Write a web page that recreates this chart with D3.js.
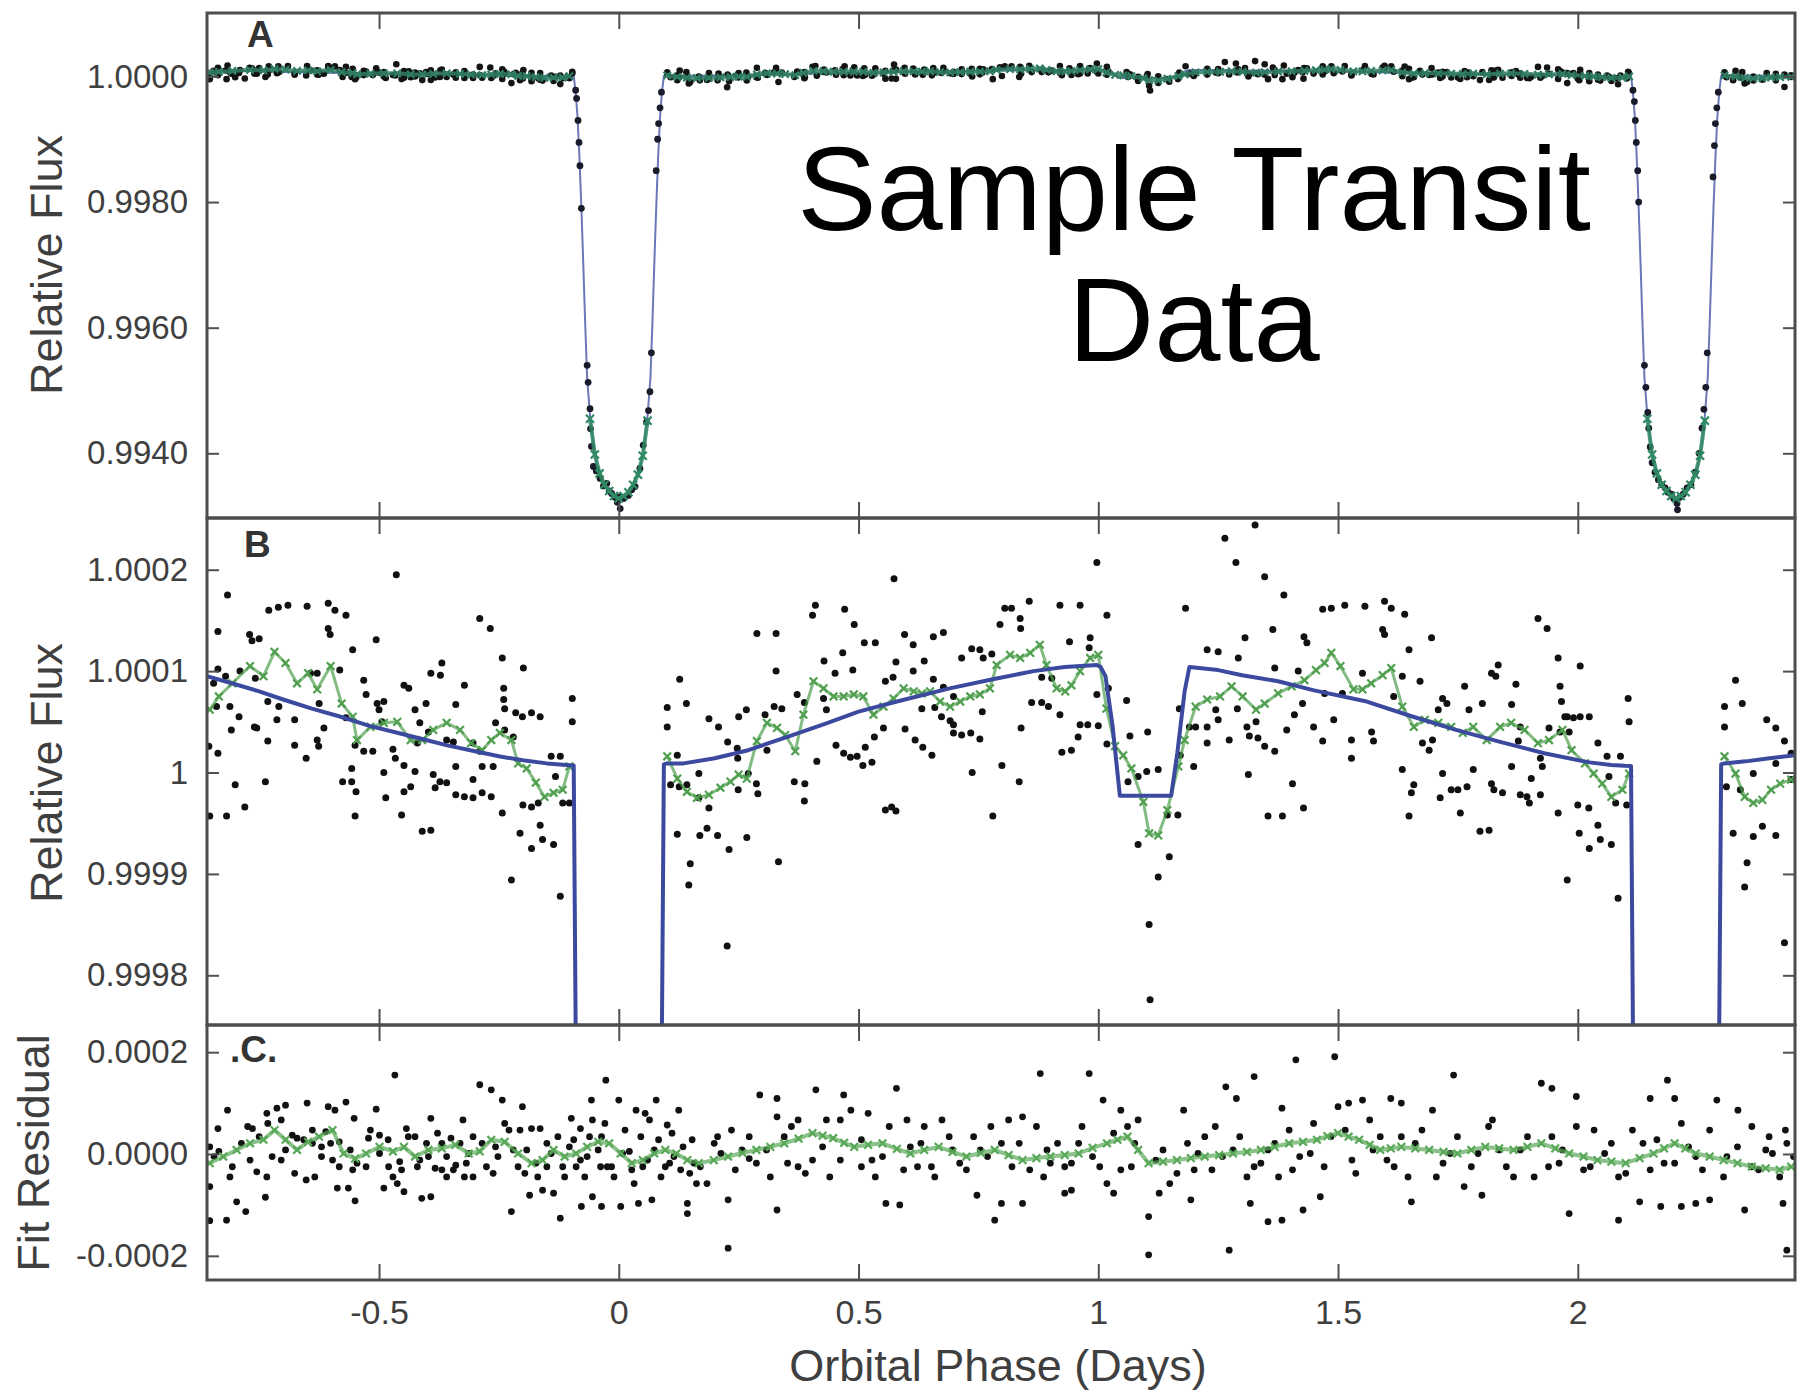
<!DOCTYPE html>
<html><head><meta charset="utf-8">
<script src="https://cdn.jsdelivr.net/npm/d3@7"></script>
<style>
body{margin:0;background:#fff}
svg{display:block}
text{font-family:"Liberation Sans",Arial,Helvetica,sans-serif}
</style>
</head><body>
<svg id="chart" width="1797" height="1396"></svg>
<script>
// ---------------- DATA ----------------
// x axis: orbital phase in days
const phaseRange = [-0.8588, 2.453];
const xTickValues = [-0.5, 0, 0.5, 1, 1.5, 2];
const xTickLabels = ["-0.5", "0", "0.5", "1", "1.5", "2"];

// panel A (relative flux)
const aRange = [0.99297, 1.00101];
const aTickValues = [1.0, 0.998, 0.996, 0.994];
const aTickLabels = ["1.0000", "0.9980", "0.9960", "0.9940"];
// panel B (relative flux, zoomed)
const bRange = [0.999751, 1.000251];
const bTickValues = [1.0002, 1.0001, 1.0, 0.9999, 0.9998];
const bTickLabels = ["1.0002", "1.0001", "1", "0.9999", "0.9998"];
// panel C (fit residual)
const cRange = [-0.0002475, 0.0002534];
const cTickValues = [0.0002, 0, -0.0002];
const cTickLabels = ["0.0002", "0.0000", "-0.0002"];

// Out-of-transit photometry: [phase (days), flux - 1 in ppm]
const obsPoints = [
[-0.816,175],[-0.836,139],[-0.464,195],[-0.73,160],[-0.71,163],[-0.69,165],[-0.65,164],[-0.606,167],[-0.592,160],[-0.569,155],[-0.606,142],[-0.602,136],[-0.77,136],[-0.765,130],[-0.75,132],[-0.555,121],[-0.506,131],[-0.29,152],[-0.268,142],[-0.243,113],[-0.199,103],[-0.392,98],[-0.369,108],[-0.372,96],[-0.097,73],[-0.097,50],
[-0.836,102],[-0.79,100],[-0.758,93],[-0.643,98],[-0.629,98],[-0.582,101],[-0.532,91],[-0.527,77],[-0.504,68],[-0.49,70],[-0.5,62],[-0.448,86],[-0.438,83],[-0.425,62],[-0.402,68],[-0.34,67],[-0.322,86],[-0.24,83],[-0.24,72],[-0.238,63],[-0.215,59],[-0.201,55],[-0.182,59],[-0.164,55],
[-0.839,65],[-0.811,65],[-0.792,55],[-0.76,45],[-0.755,44],[-0.732,31],[-0.713,52],[-0.676,52],[-0.732,70],[-0.709,65],[-0.676,27],[-0.652,14],[-0.629,32],[-0.626,26],[-0.615,44],[-0.625,68],[-0.569,54],[-0.55,27],[-0.532,21],[-0.513,21],[-0.494,50],[-0.471,23],[-0.49,0],[-0.486,-25],[-0.448,-19],[-0.434,-14],[-0.453,-42],[-0.425,1],[-0.387,-2],[-0.373,-9],[-0.383,-15],[-0.359,-10],[-0.34,-22],[-0.322,-24],[-0.304,-25],[-0.285,-20],[-0.266,-24],[-0.34,6],[-0.304,-7],[-0.285,6],[-0.262,6],[-0.415,49],[-0.397,40],[-0.42,29],[-0.359,32],[-0.345,30],[-0.304,29],[-0.29,21],[-0.257,49],[-0.238,42],[-0.22,35],[-0.243,-40],[-0.2,-32],[-0.182,-34],[-0.168,-30],[-0.206,-60],[-0.182,-75],[-0.164,-52],[-0.159,-66],[-0.136,-71],[-0.224,-106],[-0.122,-122],[-0.141,16],[-0.122,16],[-0.132,-4],[-0.117,-30],[-0.103,-30],
[-0.853,-43],[-0.818,-43],[-0.78,-34],[-0.8,-12],[-0.737,-9],[-0.836,19],[-0.808,42],[-0.855,26],[-0.55,-43],[-0.576,-9],[-0.557,-9],[-0.548,-19],[-0.557,4],[-0.466,14],[-0.448,7],[-0.41,-58],[-0.392,-57],[-0.845,88],[-0.82,95],
[0.101,64],[0.101,45],[0.127,92],[0.141,68],[0.122,17],[0.108,-12],[0.126,-14],[0.142,-12],[0.167,-1],[0.167,-25],[0.188,-35],[0.122,-61],[0.169,-62],[0.184,-55],[0.206,-62],[0.149,-90],[0.146,-111],[0.23,-76],[0.226,-171],[0.267,-64],[0.188,53],[0.208,45],[0.227,30],[0.247,24],[0.248,14],[0.25,55],[0.266,62],[0.27,-1],[0.249,-17],[0.287,-11],[0.29,-21],[0.288,137],[0.328,137],[0.328,100],[0.305,57],[0.324,65],[0.34,63],[0.309,22],[0.333,-88],[0.366,-9],[0.388,-11],[0.387,-28],[0.372,77],[0.387,69],[0.404,155],[0.41,165],[0.413,11],[0.428,110],[0.427,73],[0.433,62],[0.451,98],[0.453,27],[0.469,19],[0.483,15],[0.497,16],[0.471,161],[0.467,118],[0.488,101],[0.491,146],[0.509,7],[0.528,10],[0.514,25],[0.533,35],[0.512,128],[0.535,128],[0.552,44],[0.556,90],[0.556,-37],[0.569,-34],[0.578,-38],[0.574,191],[0.578,109],[0.572,94],[0.596,136],[0.614,126],[0.614,100],[0.597,43],[0.618,32],[0.634,25],[0.653,17],[0.637,110],[0.632,63],[0.656,134],[0.677,138],[0.656,92],[0.659,64],[0.673,55],[0.691,51],[0.698,47],[0.677,84],[0.698,39],[0.715,37],[0.734,39],[0.698,75],[0.715,113],[0.736,122],[0.753,121],[0.76,113],[0.778,117],[0.737,0],[0.753,33],[0.758,60],[0.78,-43],[0.799,7],[0.795,146],[0.805,162],[0.819,162],[0.837,152],[0.838,142],[0.856,169],[0.835,-9],[0.839,44],[0.861,69],[0.882,69],[0.896,65],[0.882,94],[0.903,93],[0.92,57],[0.92,165],[0.962,165],[0.94,129],[0.924,20],[0.944,22],[0.962,47],[0.978,47],[0.958,35],[0.983,133],[0.981,123],[0.997,207],[1.018,155],[0.997,77],[1.0,46],[1.018,28],[1.021,83],[1.059,71],[1.066,36],[1.062,-9],[1.083,-4],[1.083,-71],[1.103,40],[1.101,1],
[1.125,3],[1.125,-103],[1.106,-150],[1.108,-224],[1.148,-83],[1.144,-42],[1.166,-42],[1.171,17],[1.169,63],[1.182,162],[1.19,45],[1.203,45],[1.227,45],[1.199,6],[1.227,29],[1.227,121],[1.25,119],[1.245,62],[1.25,52],[1.264,231],[1.287,207],[1.273,32],[1.292,113],[1.29,63],[1.306,133],[1.31,45],[1.315,36],[1.329,50],[1.333,34],[1.347,26],[1.313,-2],[1.327,244],[1.347,193],[1.354,-43],[1.384,-43],[1.364,141],[1.368,103],[1.368,21],[1.387,175],[1.393,42],[1.405,-11],[1.409,57],[1.417,100],[1.429,134],[1.435,128],[1.426,68],[1.428,-35],[1.449,45],[1.468,161],[1.486,162],[1.514,165],[1.468,31],[1.472,78],[1.491,52],[1.509,78],[1.528,32],[1.528,14],[1.551,98],[1.556,164],[1.57,40],[1.574,31],[1.597,169],[1.611,162],[1.593,141],[1.597,136],[1.616,75],[1.634,95],[1.639,156],[1.634,3],[1.648,121],[1.648,-43],[1.658,-12],[1.653,-20],[1.671,90],[1.676,29],[1.69,22],[1.697,32],[1.695,133],[1.709,62],[1.718,73],[1.727,68],[1.713,-25],[1.718,-1],[1.736,-17],[1.75,-17],[1.769,-14],[1.755,-40],[1.764,85],[1.773,62],[1.782,3],[1.796,-58],[1.815,-57],[1.801,68],[1.82,98],[1.834,106],[1.829,95],[1.82,-11],[1.825,-17],[1.843,-20],[1.862,6],[1.862,67],[1.871,87],[1.88,45],[1.876,31],[1.88,-22],[1.894,-24],[1.899,-30],[1.922,-22],[1.903,-6],[1.922,14],[1.917,152],[1.936,142],[1.926,6],[1.94,44],[1.963,40],[1.973,55],[1.959,113],[1.963,85],[1.966,70],[1.959,-40],[1.978,55],[1.991,54],[2.005,55],[2.024,55],[1.982,40],[1.978,-106],[2.0,-32],[2.023,-35],[2.005,105],[2.003,-60],[2.024,-75],[2.042,-52],[2.047,-66],[2.07,-71],[2.042,29],[2.061,16],[2.089,16],[2.065,-4],[2.079,-30],[2.084,-124],[2.105,73],[2.107,50],[2.102,-32],
[2.306,65],[2.306,45],[2.329,91],[2.343,68],[2.31,-14],[2.339,-17],[2.324,-60],[2.353,-89],[2.348,-113],[2.366,-1],[2.366,-63],[2.385,-53],[2.394,52],[2.413,44],[2.413,9],[2.413,-62],[2.431,31],[2.431,-168],[2.445,-7],[2.445,19]
];

// In-transit photometry (visible only in panel A): [phase, relative flux]
const transitPoints = [
[-0.090,0.99978],[-0.088,0.99965],[-0.085,0.99930],[-0.083,0.99895],[-0.081,0.99858],[-0.078,0.99790],[-0.066,0.99540],[-0.064,0.99513],[-0.060,0.99471],[-0.059,0.99439],[-0.057,0.99411],[-0.053,0.99379],[-0.047,0.99372],[-0.039,0.99360],[-0.032,0.99348],[-0.025,0.99352],[-0.020,0.99340],[-0.015,0.99336],[-0.008,0.99330],[0.0025,0.99331],[0.003,0.99312],[-0.003,0.99322],[0.010,0.99328],[0.020,0.99333],[0.027,0.99342],[0.034,0.99347],[0.044,0.99376],[0.051,0.99413],[0.058,0.99450],[0.062,0.99468],[0.065,0.99498],[0.068,0.99560],[0.078,0.99850],[0.081,0.99900],[0.083,0.99925],[0.086,0.99950],[0.089,0.99975],
[2.115,0.99978],[2.118,0.99960],[2.120,0.99930],[2.122,0.99895],[2.125,0.99850],[2.127,0.99800],[2.139,0.99540],[2.142,0.99505],[2.146,0.99465],[2.148,0.99440],[2.151,0.99410],[2.155,0.99385],[2.161,0.99370],[2.168,0.99358],[2.175,0.99350],[2.182,0.99345],[2.188,0.99338],[2.195,0.99335],[2.200,0.99328],[2.207,0.99320],[2.208,0.99310],[2.213,0.99330],[2.220,0.99335],[2.228,0.99345],[2.236,0.99350],[2.245,0.99370],[2.253,0.99400],[2.259,0.99440],[2.263,0.99470],[2.267,0.99505],[2.270,0.99560],[2.282,0.99840],[2.285,0.99890],[2.287,0.99925],[2.290,0.99950],[2.293,0.99975]
];

// Binned photometry (green): [phase, flux - 1 in ppm]
const binnedPoints = [
[-0.853,62],[-0.834,75],[-0.806,88],[-0.769,105],[-0.741,95],[-0.718,119],[-0.695,108],[-0.671,88],[-0.648,98],[-0.629,82],[-0.601,105],[-0.578,68],[-0.555,55],[-0.546,32],[-0.518,45],[-0.49,49],[-0.462,50],[-0.434,32],[-0.41,32],[-0.387,42],[-0.359,49],[-0.331,42],[-0.308,29],[-0.285,22],[-0.266,32],[-0.248,39],[-0.224,32],[-0.21,9],[-0.192,4],[-0.173,-10],[-0.155,-24],[-0.136,-20],[-0.117,-17],[-0.103,6],
[0.101,16],[0.122,-6],[0.142,-19],[0.163,-25],[0.188,-22],[0.212,-15],[0.233,-9],[0.25,-2],[0.267,-6],[0.288,31],[0.309,49],[0.33,44],[0.347,37],[0.368,21],[0.385,57],[0.406,90],[0.427,83],[0.448,75],[0.469,75],[0.49,77],[0.51,75],[0.531,57],[0.552,65],[0.573,73],[0.594,83],[0.615,80],[0.632,78],[0.649,80],[0.67,70],[0.691,65],[0.712,70],[0.733,75],[0.753,77],[0.774,83],[0.788,106],[0.816,116],[0.837,113],[0.858,118],[0.878,126],[0.892,106],[0.913,83],[0.931,80],[0.944,86],[0.962,100],[0.983,113],[1.0,116],[1.017,63],[1.035,26],[1.052,17],[1.069,4],[1.094,-29],[1.106,-60],[1.125,-62],[1.144,-37],[1.167,6],[1.18,32],[1.203,65],[1.227,72],[1.254,75],[1.278,85],[1.301,75],[1.329,62],[1.347,68],[1.375,78],[1.403,85],[1.43,91],[1.454,101],[1.472,108],[1.486,118],[1.505,105],[1.532,82],[1.551,82],[1.569,88],[1.593,96],[1.611,103],[1.634,65],[1.658,45],[1.681,52],[1.709,49],[1.736,45],[1.76,39],[1.782,45],[1.81,32],[1.838,45],[1.861,49],[1.889,42],[1.917,29],[1.94,32],[1.968,42],[1.987,22],[2.015,9],[2.033,-1],[2.051,-11],[2.07,-24],[2.093,-17],[2.107,-1],
[2.306,16],[2.329,-1],[2.348,-24],[2.366,-30],[2.385,-27],[2.403,-17],[2.422,-11],[2.445,-7]
];
// Binned in-transit points (panel A): [phase, relative flux]
const binnedTransit = [
[-0.060,0.99455],[-0.050,0.99398],[-0.040,0.99368],[-0.030,0.99350],[-0.020,0.99340],[-0.010,0.99332],[0.0,0.99328],[0.010,0.99332],[0.020,0.99338],[0.030,0.99350],[0.040,0.99366],[0.050,0.99396],[0.060,0.99452],
[2.145,0.99455],[2.155,0.99398],[2.165,0.99368],[2.175,0.99350],[2.185,0.99340],[2.195,0.99332],[2.205,0.99328],[2.215,0.99332],[2.225,0.99338],[2.235,0.99350],[2.245,0.99366],[2.255,0.99396],[2.265,0.99452]
];

// Model fit (blue line): phase and relative flux
const modelPhase = [-0.859,-0.80,-0.75,-0.70,-0.64,-0.58,-0.52,-0.46,-0.41,-0.36,-0.30,-0.25,-0.20,-0.15,-0.11,-0.094,-0.090,-0.086,-0.082,-0.078,-0.074,-0.070,-0.066,-0.060,-0.053,-0.045,-0.033,-0.020,0,0.020,0.033,0.045,0.053,0.060,0.066,0.070,0.074,0.078,0.082,0.086,0.090,0.094,0.10,0.135,0.20,0.27,0.35,0.43,0.50,0.58,0.69,0.78,0.865,0.93,0.997,1.005,1.015,1.030,1.045,1.152,1.165,1.180,1.19,1.25,1.30,1.375,1.45,1.56,1.65,1.746,1.84,1.93,2.024,2.07,2.098,2.111,2.115,2.119,2.123,2.127,2.131,2.135,2.139,2.145,2.152,2.160,2.172,2.185,2.205,2.225,2.238,2.250,2.258,2.265,2.271,2.275,2.279,2.283,2.287,2.291,2.295,2.299,2.305,2.35,2.40,2.453];
const modelFlux = [1.000095,1.000087,1.000080,1.000072,1.000063,1.000055,1.000046,1.000039,1.000033,1.000027,1.000021,1.000016,1.000012,1.000009,1.0000075,1.000007,0.99975,0.99935,0.99870,0.99790,0.99700,0.99605,0.99520,0.99460,0.99413,0.99380,0.99355,0.99338,0.99328,0.99338,0.99355,0.99380,0.99413,0.99460,0.99520,0.99605,0.99700,0.99790,0.99870,0.99935,0.99975,1.000008,1.000009,1.000009,1.000014,1.000022,1.000035,1.000048,1.000060,1.000070,1.000083,1.000092,1.000100,1.000104,1.000106,1.000104,1.000095,1.000045,0.999977,0.999977,1.000020,1.000080,1.000104,1.000101,1.000096,1.000090,1.000081,1.000070,1.000056,1.000042,1.000030,1.000019,1.000010,1.0000075,1.0000066,1.0000065,0.99975,0.99935,0.99870,0.99790,0.99700,0.99605,0.99520,0.99460,0.99413,0.99380,0.99355,0.99338,0.99328,0.99338,0.99355,0.99380,0.99413,0.99460,0.99520,0.99605,0.99700,0.99790,0.99870,0.99935,0.99975,1.000008,1.000009,1.000011,1.000014,1.000017];

// Fit residuals: [phase, residual in ppm]
const residPoints = [
[-0.853,14],[-0.853,-64],[-0.853,-131],[-0.836,50],[-0.834,5],[-0.816,86],[-0.818,-130],[-0.811,-45],[-0.797,-94],[-0.778,-113],[-0.787,21],[-0.774,54],[-0.755,-35],[-0.734,80],[-0.713,90],[-0.695,96],[-0.734,-45],[-0.737,-85],[-0.723,-5],[-0.695,8],[-0.676,-38],[-0.65,100],[-0.652,-51],[-0.634,-45],[-0.62,-5],[-0.606,93],[-0.592,86],[-0.569,102],[-0.611,44],[-0.583,24],[-0.587,-67],[-0.564,-67],[-0.552,70],[-0.55,-92],[-0.546,-18],[-0.506,88],[-0.522,31],[-0.499,1],[-0.49,-67],[-0.467,155],[-0.471,-45],[-0.462,-58],[-0.448,-74],[-0.443,50],[-0.425,34],[-0.411,-87],[-0.392,-84],[-0.392,70],[-0.383,-28],[-0.369,-31],[-0.359,-45],[-0.34,-22],[-0.322,-45],[-0.304,-45],[-0.325,67],[-0.29,136],[-0.266,126],[-0.262,-38],[-0.243,106],[-0.238,60],[-0.224,-113],[-0.206,47],[-0.182,50],[-0.164,50],[-0.201,93],[-0.186,-81],[-0.159,-71],[-0.136,-77],[-0.15,-25],[-0.122,-126],[-0.099,70],[-0.08,50],[-0.057,106],[-0.078,-103],[-0.055,-84],[-0.036,-103],[-0.027,145],[0,106],[0.004,-103],[0.022,5],[0.036,86],[0.055,80],[0.064,67],[0.041,-97],[0.069,-90],[0.078,106],[0.101,57],[0.125,86],[0.143,-97],[0.143,-117],[0.148,-38],[-0.055,67],[-0.036,34],[-0.089,-25],[-0.071,-45],[-0.015,-25],[0.032,-58],[0.088,-45],[0.106,-18],
[-0.844,-5],[-0.806,-25],[-0.769,-12],[-0.704,-12],[-0.671,31],[-0.639,21],[-0.597,-12],[-0.56,8],[-0.527,-25],[-0.481,28],[-0.453,-31],[-0.42,-25],[-0.397,-5],[-0.369,21],[-0.35,31],[-0.313,1],[-0.285,21],[-0.252,-5],[-0.22,8],[-0.196,-38],[-0.173,-18],[-0.141,1],[-0.117,-25],[-0.103,14],[-0.066,-5],[-0.043,8],[-0.024,-25],[0.008,1],[0.05,-25],[0.074,8],[0.115,-5],[0.134,14],[0.157,-18],
[-0.764,50],[-0.75,34],[-0.732,60],[-0.704,67],[-0.681,37],[-0.657,28],[-0.639,47],[-0.62,14],[-0.601,21],[-0.583,-25],[-0.555,-31],[-0.518,47],[-0.499,37],[-0.48,-25],[-0.457,-15],[-0.439,34],[-0.415,-12],[-0.401,21],[-0.378,41],[-0.359,-5],[-0.345,-31],[-0.331,21],[-0.318,-18],[-0.304,34],[-0.276,-25],[-0.257,14],[-0.229,47],[-0.21,-25],[-0.192,8],[-0.169,-45],[-0.15,21],[-0.127,34],[-0.113,-45],[-0.094,28],[-0.08,-12],[-0.061,34],[-0.038,-25],[-0.029,60],[-0.01,-45],[0.013,47],[0.027,-31],[0.046,34],[0.06,-12],[0.083,28],[0.097,-25],[0.111,41],[0.129,-31],[0.153,28],[0.162,-58],
[0.17,-25],[0.184,-58],[0.228,-90],[0.228,-185],[0.206,34],[0.235,47],[0.257,8],[0.272,-9],[0.294,116],[0.33,109],[0.33,-110],[0.33,73],[0.36,54],[0.389,-38],[0.411,126],[0.433,67],[0.469,116],[0.484,86],[0.506,-25],[0.52,80],[0.535,-45],[0.557,-97],[0.586,-100],[0.579,129],[0.601,67],[0.623,-25],[0.637,54],[0.674,67],[0.74,34],[0.747,-81],[0.784,-130],[0.798,-97],[0.813,67],[0.842,73],[0.842,-97],[0.879,158],[0.9,-18],[0.93,-77],[0.944,-71],[0.959,21],[0.981,158],[1.01,106],[1.018,-58],[1.032,-77],[1.047,86],[1.061,54],[1.105,-123],[1.105,-198],[1.127,-77],[1.178,86],[1.193,-90],[1.222,34],[1.266,132],[1.273,-189],[1.288,109],[1.325,152],[1.317,-97],[1.354,-133],[1.383,-130],[1.383,90],[1.412,185],[1.427,-110],[1.463,-84],[1.493,191],[1.5,93],[1.522,100],[1.551,106],[1.573,8],[1.61,109],[1.632,100],[1.653,-94],[1.697,86],[1.741,155],[1.763,-64],[1.8,-81],[1.822,67],[1.924,139],[1.946,129],[1.982,-117],[1.997,113],[2.034,47],[2.085,-130],[2.129,-94],[2.151,109],[2.187,145],[2.202,109],[2.173,-103],[2.216,-103],[2.246,-97],[2.275,-90],[2.29,106],[2.334,86],[2.348,-110],[2.399,34],[2.428,-97],[2.436,-189],[2.436,21],
[0.213,1],[0.287,-18],[0.345,34],[0.374,-25],[0.425,14],[0.462,-12],[0.506,28],[0.55,-5],[0.608,14],[0.652,-25],[0.696,8],[0.725,-31],[0.769,-5],[0.798,21],[0.857,-31],[0.893,8],[0.93,-25],[0.988,-5],[1.047,-31],[1.076,21],[1.12,-12],[1.164,-38],[1.208,1],[1.237,-31],[1.281,8],[1.31,-45],[1.339,-18],[1.368,21],[1.405,-31],[1.442,1],[1.485,34],[1.529,-12],[1.588,34],[1.617,-25],[1.661,21],[1.705,-45],[1.734,1],[1.778,-25],[1.836,8],[1.866,-45],[1.895,34],[1.939,-25],[1.968,8],[2.012,-31],[2.056,1],[2.1,-38],[2.136,21],[2.18,-18],[2.231,14],[2.26,-31],[2.311,-5],[2.363,-25],[2.392,8],[2.421,-45],[2.45,-5],
[0.199,21],[0.243,-31],[0.272,34],[0.308,8],[0.316,-45],[0.352,-18],[0.374,67],[0.404,-12],[0.44,-45],[0.462,67],[0.528,-12],[0.564,54],[0.594,-31],[0.63,21],[0.659,-45],[0.689,34],[0.711,-18],[0.754,8],[0.776,54],[0.82,-25],[0.835,21],[0.871,54],[0.886,-45],[0.915,21],[0.944,-18],[0.966,54],[1.003,-25],[1.032,41],[1.069,-25],[1.083,67],[1.135,8],[1.149,-58],[1.186,21],[1.2,-31],[1.244,54],[1.259,-5],[1.295,34],[1.325,-25],[1.354,8],[1.376,-45],[1.398,47],[1.42,-5],[1.449,60],[1.471,-25],[1.515,47],[1.537,-38],[1.566,67],[1.602,-12],[1.632,34],[1.646,-45],[1.675,47],[1.719,-18],[1.749,34],[1.792,1],[1.814,54],[1.851,-25],[1.88,8],[1.909,-45],[1.946,34],[1.961,-18],[1.997,54],[2.026,-25],[2.07,21],[2.085,-45],[2.114,47],[2.151,-31],[2.165,28],[2.202,-18],[2.216,60],[2.246,-5],[2.275,47],[2.304,-45],[2.333,14],[2.363,54],[2.377,-31],[2.406,1],[2.433,47]
];
// Binned residuals (green): [phase, residual in ppm]
const binnedResid = [
[-0.853,-18],[-0.825,-5],[-0.797,8],[-0.769,21],[-0.741,28],[-0.718,47],[-0.695,28],[-0.671,8],[-0.648,24],[-0.625,34],[-0.597,47],[-0.574,1],[-0.55,-9],[-0.527,1],[-0.499,14],[-0.471,5],[-0.448,14],[-0.425,-5],[-0.397,8],[-0.369,11],[-0.341,18],[-0.313,1],[-0.29,5],[-0.266,28],[-0.238,24],[-0.21,1],[-0.182,-18],[-0.159,-12],[-0.136,8],[-0.113,-5],[-0.089,1],[-0.066,14],[-0.043,24],[-0.02,21],[0.004,1],[0.027,-18],[0.05,-12],[0.074,1],[0.097,8],[0.12,1],[0.143,-12],[0.167,-18],
[0.198,-12],[0.228,-5],[0.258,2],[0.287,8],[0.316,14],[0.345,21],[0.375,30],[0.404,41],[0.425,36],[0.447,31],[0.47,22],[0.491,14],[0.52,18],[0.55,21],[0.58,10],[0.608,1],[0.637,8],[0.667,14],[0.696,4],[0.725,-5],[0.755,2],[0.784,8],[0.813,-2],[0.842,-12],[0.871,-8],[0.9,-5],[0.93,-2],[0.959,1],[0.988,12],[1.018,21],[1.04,28],[1.061,34],[1.083,8],[1.105,-18],[1.135,-15],[1.164,-12],[1.193,-8],[1.222,-5],[1.252,-2],[1.281,1],[1.31,4],[1.339,8],[1.368,14],[1.398,21],[1.427,24],[1.456,28],[1.478,35],[1.5,41],[1.522,34],[1.544,28],[1.566,18],[1.588,8],[1.61,11],[1.632,14],[1.661,11],[1.69,8],[1.72,4],[1.749,1],[1.778,8],[1.807,14],[1.836,11],[1.866,8],[1.895,14],[1.924,21],[1.953,11],[1.982,1],[2.012,-5],[2.041,-12],[2.07,-15],[2.1,-18],[2.129,-8],[2.158,1],[2.18,11],[2.202,21],[2.224,11],[2.246,1],[2.275,-5],[2.304,-12],[2.333,-18],[2.363,-25],[2.392,-28],[2.421,-31],[2.445,-25]
];

// ---------------- DRAWING ----------------
const svg = d3.select("#chart");
const L = 207, R = 1795;
const x = d3.scaleLinear().domain(phaseRange).range([L, R]);
const yA = d3.scaleLinear().domain(aRange).range([518, 13]);
const yB = d3.scaleLinear().domain(bRange).range([1025, 518]);
const yC = d3.scaleLinear().domain(cRange).range([1280, 1025]);

const ppm = v => 1 + v * 1e-6;
const BORDER = "#4d4d4d", TEXT = "#3f3f3f";

function splitSegments(pts, gap) {
  const segs = []; let cur = [];
  pts.slice().sort((a, b) => a[0] - b[0]).forEach(p => {
    if (cur.length && p[0] - cur[cur.length - 1][0] > gap) { segs.push(cur); cur = []; }
    cur.push(p);
  });
  if (cur.length) segs.push(cur);
  return segs;
}

const panels = [
  {id: "A", y: yA, ticks: aTickValues, labels: aTickLabels},
  {id: "B", y: yB, ticks: bTickValues, labels: bTickLabels},
  {id: "C", y: yC, ticks: cTickValues, labels: cTickLabels}
];

const defs = svg.append("defs");
panels.forEach(p => {
  const [b, t] = p.y.range();
  defs.append("clipPath").attr("id", "clip" + p.id)
    .append("rect").attr("x", L).attr("y", t).attr("width", R - L).attr("height", b - t);
});

function dots(g, data, fy, r, color) {
  g.append("g").selectAll("circle").data(data).join("circle")
    .attr("cx", d => x(d[0])).attr("cy", d => fy(d)).attr("r", r).attr("fill", color);
}
function greenSeries(g, data, fy, color, lw, op, msize) {
  const line = d3.line().x(d => x(d[0])).y(d => fy(d));
  splitSegments(data, 0.045).forEach(seg => {
    g.append("path").attr("d", line(seg)).attr("fill", "none")
      .attr("stroke", color).attr("stroke-width", lw).attr("stroke-opacity", op)
      .attr("stroke-linejoin", "round");
  });
  const sym = d3.symbol().type(d3.symbolTimes).size(msize);
  g.append("g").selectAll("path").data(data).join("path")
    .attr("transform", d => `translate(${x(d[0])},${fy(d)})`)
    .attr("d", sym).attr("fill", "none").attr("stroke", color).attr("stroke-width", 2.2);
}
const modelData = modelPhase.map((p, i) => [p, modelFlux[i]]);

// ---- Panel A ----
const gA = svg.append("g").attr("clip-path", "url(#clipA)");
gA.append("path").attr("d", d3.line().x(d => x(d[0])).y(d => yA(d[1]))(modelData))
  .attr("fill", "none").attr("stroke", "#6a78b8").attr("stroke-width", 2);
dots(gA, obsPoints, d => yA(ppm(d[1])), 3.3, "#141414");
dots(gA, transitPoints, d => yA(d[1]), 3.4, "#1a1a2a");
greenSeries(gA, binnedPoints, d => yA(ppm(d[1])), "#2f7d63", 4, 0.85, 36);
greenSeries(gA, binnedTransit, d => yA(d[1]), "#2f8a63", 4, 0.85, 44);

// ---- Panel B ----
const gB = svg.append("g").attr("clip-path", "url(#clipB)");
dots(gB, obsPoints, d => yB(ppm(d[1])), 3.5, "#111");
greenSeries(gB, binnedPoints, d => yB(ppm(d[1])), "#4f9f4f", 3, 0.7, 40);
gB.append("path").attr("d", d3.line().x(d => x(d[0])).y(d => yB(d[1]))(modelData))
  .attr("fill", "none").attr("stroke", "#3b4a9e").attr("stroke-width", 4).attr("stroke-linejoin", "round");

// ---- Panel C ----
const gC = svg.append("g").attr("clip-path", "url(#clipC)");
dots(gC, residPoints, d => yC(d[1] * 1e-6), 3.4, "#111");
greenSeries(gC, binnedResid, d => yC(d[1] * 1e-6), "#58a858", 4, 0.7, 40);

// ---- Axes & frames ----
panels.forEach(p => {
  const [b, t] = p.y.range();
  const lab = d => p.labels[p.ticks.indexOf(d)];
  const gl = svg.append("g").attr("transform", `translate(${L},0)`)
    .call(d3.axisLeft(p.y).tickValues(p.ticks).tickFormat(lab).tickSizeInner(-12).tickSizeOuter(0).tickPadding(19));
  const gr = svg.append("g").attr("transform", `translate(${R},0)`)
    .call(d3.axisRight(p.y).tickValues(p.ticks).tickFormat("").tickSizeInner(-12).tickSizeOuter(0));
  const gt = svg.append("g").attr("transform", `translate(0,${t})`)
    .call(d3.axisTop(x).tickValues(xTickValues).tickFormat("").tickSizeInner(-16).tickSizeOuter(0));
  const gb = svg.append("g").attr("transform", `translate(0,${b})`)
    .call(d3.axisBottom(x).tickValues(xTickValues)
      .tickFormat(p.id === "C" ? (d => xTickLabels[xTickValues.indexOf(d)]) : "")
      .tickSizeInner(-16).tickSizeOuter(0).tickPadding(20));
  [gl, gr, gt, gb].forEach(g => {
    g.select(".domain").remove();
    g.selectAll(".tick line").attr("stroke", "#505050").attr("stroke-width", 2);
    g.selectAll(".tick text").attr("fill", TEXT).style("font-family", '"Liberation Sans", Arial, sans-serif');
  });
  gl.selectAll(".tick text").style("font-size", "33px");
  gb.selectAll(".tick text").style("font-size", "34px");
  svg.append("rect").attr("x", L).attr("y", t).attr("width", R - L).attr("height", b - t)
    .attr("fill", "none").attr("stroke", BORDER).attr("stroke-width", 3);
});

// ---- Text ----
const axisTitle = (txt, tx, ty) => svg.append("text")
  .attr("transform", `translate(${tx},${ty}) rotate(-90)`).attr("text-anchor", "middle")
  .attr("fill", TEXT).style("font-size", "45px").text(txt);
axisTitle("Relative Flux", 62, 265);
axisTitle("Relative Flux", 62, 773);
axisTitle("Fit Residual", 49, 1153);

svg.append("text").attr("x", 998).attr("y", 1381).attr("text-anchor", "middle")
  .attr("fill", TEXT).style("font-size", "45px").text("Orbital Phase (Days)");

const panelLetter = (t, tx, ty) => svg.append("text").attr("x", tx).attr("y", ty)
  .attr("fill", "#333").style("font-size", "37px").style("font-weight", "bold").text(t);
panelLetter("A", 247, 47);
panelLetter("B", 244, 557);
panelLetter(".C.", 230, 1062);

svg.append("text").attr("x", 1194).attr("y", 230).attr("text-anchor", "middle")
  .attr("fill", "#000").style("font-size", "119px").text("Sample Transit");
svg.append("text").attr("x", 1194).attr("y", 361).attr("text-anchor", "middle")
  .attr("fill", "#000").style("font-size", "119px").text("Data");
</script>
</body></html>
